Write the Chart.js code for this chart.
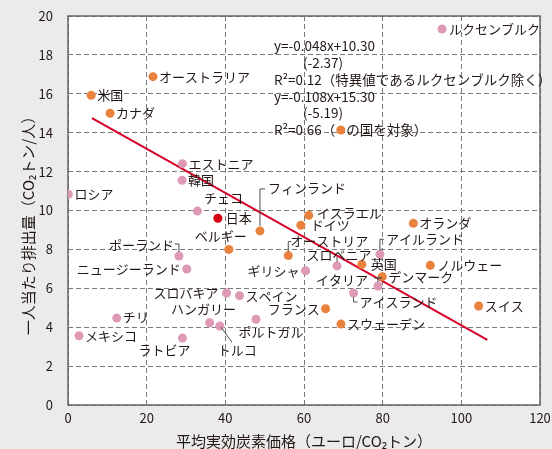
<!DOCTYPE html>
<html>
<head>
<meta charset="utf-8">
<script src="https://cdn.jsdelivr.net/npm/chart.js@4.4.1/dist/chart.umd.min.js"></script>
<style>
html, body { margin: 0; padding: 0; background: #ebebeb; }
canvas { display: block; }
</style>
</head>
<body>
<canvas id="chart-area" width="552" height="449"></canvas>
<script>
/* data */
var countries = [
    "ルクセンブルク", "オーストラリア", "米国", "カナダ", "エストニア", "韓国", "ロシア", "チェコ",
    "日本", "フィンランド", "ベルギー", "ポーランド", "ニュージーランド", "スロバキア", "スペイン", "チリ",
    "ハンガリー", "トルコ", "ポルトガル", "メキシコ", "ラトビア", "ギリシャ", "オーストリア", "スロベニア",
    "イスラエル", "ドイツ", "オランダ", "アイルランド", "英国", "ノルウェー", "デンマーク", "イタリア",
    "アイスランド", "フランス", "スウェーデン", "スイス"
];
var carbonPrice = [
    95.1, 21.6, 5.9, 10.7, 29.1, 29.0, 0.1, 32.9,
    38.1, 48.8, 40.9, 28.2, 30.2, 40.3, 43.6, 12.4,
    36.0, 38.6, 47.8, 2.8, 29.1, 60.4, 56.0, 68.4,
    61.2, 59.2, 87.8, 79.3, 74.7, 92.1, 79.9, 78.8,
    72.6, 65.5, 69.4, 104.4
];
var emissions = [
    19.33, 16.88, 15.92, 15.0, 12.41, 11.55, 10.83, 9.97,
    9.6, 8.95, 8.0, 7.66, 6.99, 5.76, 5.62, 4.47,
    4.23, 4.06, 4.41, 3.56, 3.44, 6.9, 7.68, 7.15,
    9.75, 9.24, 9.34, 7.75, 7.23, 7.18, 6.6, 6.12,
    5.76, 4.95, 4.16, 5.09
];
// o = countries in the regression, p = others, j = Japan
var group = [
    "p", "o", "o", "o", "p", "p", "p", "p",
    "j", "o", "o", "p", "p", "p", "p", "p",
    "p", "p", "p", "p", "p", "p", "o", "p",
    "o", "o", "o", "p", "o", "o", "o", "p",
    "p", "o", "o", "o"
];
var fitLineX = [6.1, 106.6];
var fitLineY = [14.75, 3.35];
var xTicks = [0, 20, 40, 60, 80, 100, 120];
var yTicks = [0, 2, 4, 6, 8, 10, 12, 14, 16, 18, 20];
var equationLines = [
    "y=-0.048x+10.30",
    "(-2.37)",
    "R²=0.12（特異値であるルクセンブルク除く）",
    "y=-0.108x+15.30",
    "(-5.19)",
    ["R²=0.66（", "の国を対象）"]
];
var xTitle = "平均実効炭素価格（ユーロ/CO₂トン）";
var yTitle = "一人当たり排出量（CO₂トン/人）";

/* label placement: [dx, dy, align] in px from the point */
var labelPlace = {
    "ルクセンブルク": [7, 0, "left"], "オーストラリア": [6, 0, "left"], "米国": [6, 0, "left"],
    "カナダ": [6, 0, "left"], "エストニア": [6, 0, "left"], "韓国": [6, 0, "left"],
    "ロシア": [6, 0, "left"], "チェコ": [26, -13, "center"], "日本": [8, 0, "left"],
    "フィンランド": [8, -43, "left"], "ベルギー": [-8, -13, "center"], "ポーランド": [-5, -11, "right"],
    "ニュージーランド": [-6, 0, "right"], "スロバキア": [-8, 0, "right"], "スペイン": [6, 0, "left"],
    "チリ": [6, -1, "left"], "ハンガリー": [-6, -14, "center"], "トルコ": [-2, 24, "left"],
    "ポルトガル": [15, 13, "center"], "メキシコ": [6, 0, "left"], "ラトビア": [-18, 12, "center"],
    "ギリシャ": [-6, 0, "right"], "オーストリア": [2, -15, "left"], "スロベニア": [2, -11, "center"],
    "イスラエル": [8, -2, "left"], "ドイツ": [10, 0, "left"], "オランダ": [6, 0, "left"],
    "アイルランド": [6, -15, "left"], "英国": [9, 0, "left"], "ノルウェー": [7, 0, "left"],
    "デンマーク": [6, 0, "left"], "イタリア": [-10, -6, "right"], "アイスランド": [6, 9, "left"],
    "フランス": [-6, 0, "right"], "スウェーデン": [6, 0, "left"], "スイス": [6, 0, "left"]
};
var leaders = {
    "フィンランド": [[0, -5], [0, -42], [5, -42]],
    "ポーランド": [[-4, -12], [0, -12], [0, -4]],
    "オーストリア": [[0, -4], [0, -14], [3, -14]],
    "スロベニア": [[0, -4], [0, -9]],
    "アイルランド": [[0, -4], [0, -15], [4, -15]],
    "イタリア": [[-4, -8], [4, -8], [0, -8], [0, -4]],
    "アイスランド": [[0, 4], [0, 9], [4, 9]],
    "トルコ": [[1, 1], [12, 16]]
};

var colors = { o: "#e8823c", p: "#dd99b5", j: "#d7000f" };
var jpFont = '"Noto Sans CJK JP", "Noto Sans", sans-serif';
var textColor = "#231815";

function pointsOf(g) {
    var pts = [];
    for (var i = 0; i < countries.length; i++) {
        if (group[i] === g) pts.push({ x: carbonPrice[i], y: emissions[i] });
    }
    return pts;
}

var chartDecor = {
    id: 'chartDecor',
    beforeDraw: function (chart) {
        var a = chart.chartArea, ctx = chart.ctx;
        ctx.save();
        ctx.fillStyle = "#ffffff";
        ctx.fillRect(a.left, a.top, a.right - a.left, a.bottom - a.top);
        ctx.restore();
    },
    beforeDatasetsDraw: function (chart) {
        var a = chart.chartArea, ctx = chart.ctx;
        ctx.save();
        ctx.strokeStyle = "#6b6560";
        ctx.lineWidth = 1.5;
        ctx.strokeRect(a.left, a.top, a.right - a.left, a.bottom - a.top);
        ctx.restore();
    },
    afterDatasetsDraw: function (chart) {
        var ctx = chart.ctx, xs = chart.scales.x, ys = chart.scales.y, a = chart.chartArea;
        ctx.save();
        ctx.font = "13px " + jpFont;
        ctx.fillStyle = textColor;
        ctx.textBaseline = "middle";
        ctx.strokeStyle = "#4d4d4d";
        ctx.lineWidth = 1;
        for (var i = 0; i < countries.length; i++) {
            var px = xs.getPixelForValue(carbonPrice[i]);
            var py = ys.getPixelForValue(emissions[i]);
            var p = labelPlace[countries[i]];
            ctx.textAlign = p[2];
            ctx.fillText(countries[i], px + p[0], py + p[1]);
            var l = leaders[countries[i]];
            if (l) {
                ctx.beginPath();
                ctx.moveTo(px + l[0][0], py + l[0][1]);
                for (var k = 1; k < l.length; k++) ctx.lineTo(px + l[k][0], py + l[k][1]);
                ctx.stroke();
            }
        }
        // regression equations
        var ex = a.left + 206, ey = a.top + 30, lh = 16.8;
        ctx.textAlign = "left";
        ctx.font = "13.5px " + jpFont;
        for (var j = 0; j < equationLines.length; j++) {
            var t = equationLines[j], yy = ey + j * lh;
            if (Array.isArray(t)) {
                ctx.fillText(t[0], ex, yy);
                var w = ctx.measureText(t[0]).width;
                ctx.fillStyle = colors.o;
                ctx.beginPath();
                ctx.arc(ex + w + 5.5, yy, 4.5, 0, Math.PI * 2);
                ctx.fill();
                ctx.fillStyle = textColor;
                ctx.fillText(t[1], ex + w + 11, yy);
            } else {
                ctx.fillText(t, t.charAt(0) === "(" ? ex + 29 : ex, yy);
            }
        }
        // axis titles
        ctx.font = "15px " + jpFont;
        ctx.textAlign = "center";
        ctx.fillText(xTitle, (a.left + a.right) / 2, 441);
        ctx.translate(28, 222);
        ctx.rotate(-Math.PI / 2);
        ctx.fillText(yTitle, 0, 0);
        ctx.restore();
    }
};

var config = {
    type: 'scatter',
    data: {
        datasets: [{
                data: pointsOf("o"),
                backgroundColor: colors.o,
            }, {
                data: pointsOf("p"),
                backgroundColor: colors.p,
            }, {
                data: pointsOf("j"),
                backgroundColor: colors.j,
            }, {
                type: 'line',
                data: fitLineX.map(function (v, i) { return { x: v, y: fitLineY[i] }; }),
                borderColor: "#d7002a",
                borderWidth: 2,
                pointRadius: 0,
                fill: false,
            }]
    },
    options: {
        responsive: false,
        animation: false,
        devicePixelRatio: 1,
        layout: { padding: { top: 16, right: 12, left: 0, bottom: 0 } },
        elements: { point: { radius: 4.5, borderWidth: 0, hoverRadius: 4.5 } },
        plugins: { legend: { display: false }, tooltip: { enabled: false } },
        scales: {
            x: {
                type: 'linear',
                min: 0, max: 120,
                afterBuildTicks: function (s) { s.ticks = xTicks.map(function (v) { return { value: v }; }); },
                afterFit: function (s) { s.height = 44; s.paddingLeft = 0; s.paddingRight = 0; },
                grid: { color: "#7a7a7a", drawTicks: false },
                border: { display: false, dash: [5, 3] },
                ticks: { padding: 5, color: textColor, font: { size: 13, family: jpFont } }
            },
            y: {
                type: 'linear',
                min: 0, max: 20,
                afterBuildTicks: function (s) { s.ticks = yTicks.map(function (v) { return { value: v }; }); },
                afterFit: function (s) { s.width = 68; s.paddingTop = 0; s.paddingBottom = 0; },
                grid: { color: "#7a7a7a", drawTicks: false },
                border: { display: false, dash: [5, 3] },
                ticks: { padding: 15, color: textColor, font: { size: 13, family: jpFont } }
            }
        }
    },
    plugins: [chartDecor]
};

var ctx = document.getElementById("chart-area").getContext("2d");
var myScatter = new Chart(ctx, config);
</script>
</body>
</html>
